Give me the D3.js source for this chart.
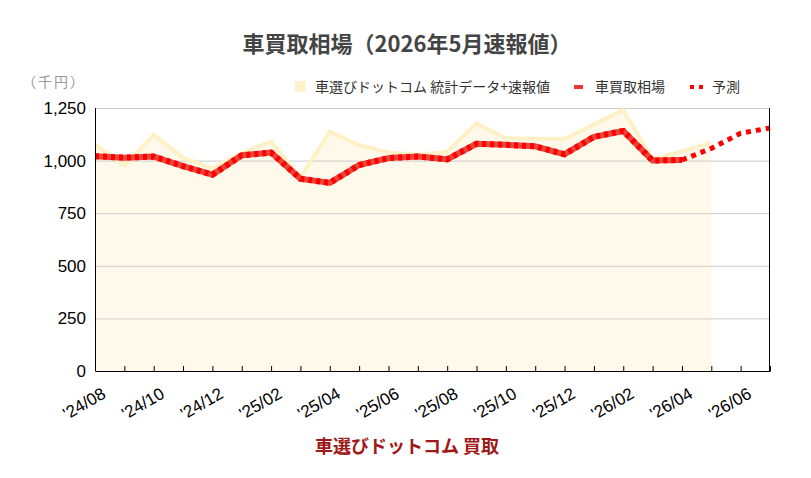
<!DOCTYPE html>
<html>
<head>
<meta charset="utf-8">
<script src="https://cdn.jsdelivr.net/npm/d3@7"></script>
<style>
  body { margin: 0; background: #fff; }
  svg { display: block; font-family: "Liberation Sans", Arial, sans-serif; }
  .jp { font-family: "Noto Sans CJK JP", "Noto Sans", sans-serif; }
</style>
</head>
<body>
<div id="chart"></div>
<script>
// months shown on the x axis (one point per month)
const months = ["'24/08", "'24/09", "'24/10", "'24/11", "'24/12", "'25/01", "'25/02", "'25/03",
  "'25/04", "'25/05", "'25/06", "'25/07", "'25/08", "'25/09", "'25/10", "'25/11", "'25/12",
  "'26/01", "'26/02", "'26/03", "'26/04", "'26/05", "'26/06", "'26/07"];

// 車選びドットコム 統計データ+速報値 ('24/08 - '26/05)
const statValues = [1077, 976, 1122, 1014, 963, 1036, 1090, 920, 1137, 1074, 1039, 1028,
  1042, 1177, 1106, 1104, 1103, 1172, 1240, 1006, 1044, 1085];

// 車買取相場 ('24/08 - '26/04)
const marketValues = [1021, 1014, 1019, 974, 933, 1025, 1038, 914, 894, 979, 1012, 1019,
  1006, 1080, 1075, 1068, 1030, 1113, 1141, 1000, 1003];

// 予測 ('26/04 - '26/07)
const forecastMonths = ["'26/04", "'26/05", "'26/06", "'26/07"];
const forecastValues = [1003, 1058, 1130, 1155];

const yTicks = [0, 250, 500, 750, 1000, 1250];

const W = 811, H = 478;
const margin = { top: 108, right: 41, bottom: 107, left: 95 };
const width = W - margin.left - margin.right;
const height = H - margin.top - margin.bottom;

const svg = d3.select('#chart').append('svg')
  .attr('width', W)
  .attr('height', H);

const g = svg.append('g')
  .attr('transform', `translate(${margin.left},${margin.top})`);

const x = d3.scalePoint()
  .domain(months)
  .range([0, width]);

const y = d3.scaleLinear()
  .domain([0, 1250])
  .range([height, 0]);

// area for statistics series
const statData = statValues.map((v, i) => ({ m: months[i], v }));
g.append('path')
  .datum(statData)
  .attr('fill', '#fff9eb')
  .attr('d', d3.area().x(d => x(d.m)).y0(height).y1(d => y(d.v)));

// gridlines
g.append('g')
  .selectAll('line')
  .data(yTicks)
  .enter()
  .append('line')
  .attr('x1', 0)
  .attr('x2', width)
  .attr('y1', d => y(d) + 0.5)
  .attr('y2', d => y(d) + 0.5)
  .attr('stroke', '#cccccc');

// stat line
g.append('path')
  .datum(statData)
  .attr('fill', 'none')
  .attr('stroke', '#fff0c6')
  .attr('stroke-width', 4)
  .attr('d', d3.line().x(d => x(d.m)).y(d => y(d.v)));

// market line: solid base + red dashes on top
const marketData = marketValues.map((v, i) => ({ m: months[i], v }));
const line = d3.line().x(d => x(d.m)).y(d => y(d.v));
g.append('path')
  .datum(marketData)
  .attr('fill', 'none')
  .attr('stroke', '#e8453c')
  .attr('stroke-width', 6)
  .attr('stroke-linejoin', 'round')
  .attr('d', line);
g.append('path')
  .datum(marketData)
  .attr('fill', 'none')
  .attr('stroke', '#ff0000')
  .attr('stroke-width', 6)
  .attr('stroke-dasharray', '4,4')
  .attr('d', line);

// forecast dotted line
const forecastData = forecastValues.map((v, i) => ({ m: forecastMonths[i], v }));
g.append('path')
  .datum(forecastData)
  .attr('fill', 'none')
  .attr('stroke', '#ff0000')
  .attr('stroke-width', 5)
  .attr('stroke-dasharray', '5,5')
  .attr('d', line);

// x axis with small inward ticks
const xAxis = g.append('g')
  .attr('transform', `translate(0,${height})`)
  .call(d3.axisBottom(x).tickSize(-5).tickSizeOuter(0).tickFormat(''));
xAxis.select('.domain').attr('stroke', '#000');
xAxis.selectAll('.tick line').attr('stroke', '#000');

g.append('g')
  .selectAll('text')
  .data(months.filter((_, i) => i % 2 === 0))
  .enter()
  .append('text')
  .attr('transform', d => `translate(${x(d) + 12},${height + 26}) rotate(-30)`)
  .attr('text-anchor', 'end')
  .style('font-size', '17px')
  .style('fill', '#000')
  .text(d => d);

// left and right borders
g.append('line')
  .attr('x1', 0.5).attr('x2', 0.5)
  .attr('y1', 0).attr('y2', height)
  .attr('stroke', '#000');
g.append('line')
  .attr('x1', width - 0.5).attr('x2', width - 0.5)
  .attr('y1', 0).attr('y2', height)
  .attr('stroke', '#000');

// y tick labels
g.append('g')
  .selectAll('text')
  .data(yTicks)
  .enter()
  .append('text')
  .attr('x', -9)
  .attr('y', d => y(d))
  .attr('dy', '0.35em')
  .attr('text-anchor', 'end')
  .style('font-size', '17px')
  .style('fill', '#000')
  .text(d => d3.format(',')(d));

// unit label
svg.append('text')
  .attr('class', 'jp')
  .attr('x', 22)
  .attr('y', 87)
  .style('font-size', '14px')
  .style('letter-spacing', '2px')
  .style('fill', '#999')
  .text('（千円）');

// title
svg.append('text')
  .attr('class', 'jp')
  .attr('x', 407)
  .attr('y', 52)
  .attr('text-anchor', 'middle')
  .style('font-size', '22px')
  .style('font-weight', 'bold')
  .style('fill', '#444')
  .text('車買取相場（2026年5月速報値）');

// bottom caption
svg.append('text')
  .attr('class', 'jp')
  .attr('x', 407)
  .attr('y', 453)
  .attr('text-anchor', 'middle')
  .style('font-size', '18px')
  .style('font-weight', 'bold')
  .style('fill', '#a01818')
  .text('車選びドットコム 買取');

// legend
const legend = svg.append('g').attr('class', 'jp');
legend.append('rect')
  .attr('x', 295).attr('y', 81)
  .attr('width', 11).attr('height', 11)
  .attr('fill', '#fff2cc');
legend.append('text')
  .attr('x', 315).attr('y', 92)
  .style('font-size', '14px')
  .style('fill', '#333')
  .text('車選びドットコム 統計データ+速報値');
legend.append('rect')
  .attr('x', 574).attr('y', 85)
  .attr('width', 9).attr('height', 4)
  .attr('fill', '#e53935');
legend.append('text')
  .attr('x', 595).attr('y', 92)
  .style('font-size', '14px')
  .style('fill', '#333')
  .text('車買取相場');
legend.append('line')
  .attr('x1', 690).attr('x2', 703)
  .attr('y1', 87).attr('y2', 87)
  .attr('stroke', '#ff0000')
  .attr('stroke-width', 4)
  .attr('stroke-dasharray', '4,5');
legend.append('text')
  .attr('x', 712).attr('y', 92)
  .style('font-size', '14px')
  .style('fill', '#333')
  .text('予測');
</script>
</body>
</html>
